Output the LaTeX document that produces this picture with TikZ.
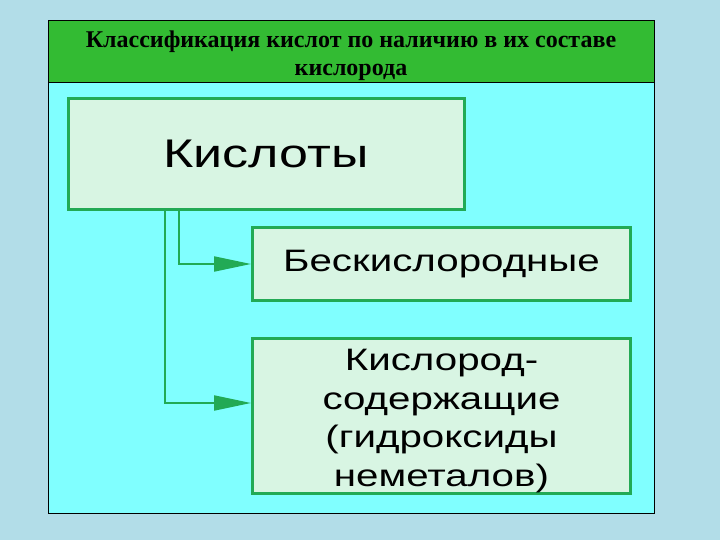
\documentclass[tikz,border=0pt]{standalone}
\usepackage{fontspec}
\setmainfont{Liberation Serif}
\setsansfont{Liberation Sans}
\newfontfamily\widesans[FakeStretch=1.3]{Liberation Sans}
\usepackage{tikz}
\usetikzlibrary{arrows.meta,positioning}

\definecolor{dropblue}{HTML}{B2DDE8}
\definecolor{headgreen}{HTML}{33BB33}
\definecolor{slidecyan}{HTML}{80FFFF}
\definecolor{boxfill}{HTML}{D8F5E3}
\definecolor{boxline}{HTML}{22AA55}

\begin{document}
\begin{tikzpicture}[x=1pt,y=-1pt,
                    >={Triangle[length=37pt,width=15pt]},
                    kind box/.style={rectangle,draw=boxline,line width=3pt,fill=boxfill,
                                     align=center,font=\widesans},
                    link/.style={->,draw=boxline,line width=2pt}]

  % background and slide
  \useasboundingbox (0,0) rectangle (720,540);
  \fill[dropblue] (0,0) rectangle (720,540);
  \draw[fill=slidecyan,line width=0.8pt] (48,20) rectangle (654,513);
  \draw[fill=headgreen,line width=0.8pt] (48,20) rectangle (654,82);
  \node[align=center,font=\fontsize{24}{28}\selectfont\bfseries] (title) at (351,56)
    {Классификация кислот по наличию в их составе\\кислорода};

  % boxes
  \node[kind box,minimum width=396pt,minimum height=111pt,
        font=\widesans\fontsize{40}{44}\selectfont] (acids) at (266,154) {Кислоты};
  \node[kind box,minimum width=378pt,minimum height=73pt,
        font=\widesans\fontsize{31}{38}\selectfont] (nooxy) at (441.5,264) {Бескислородные};
  \node[kind box,minimum width=378pt,minimum height=155pt,inner ysep=0pt,
        font=\widesans\fontsize{31}{38.5}\selectfont] (oxy) at (441.5,416)
    {\rule{0pt}{31pt}Кислород-\\содержащие\\(гидроксиды\\неметалов)};

  % connectors
  \draw[link] ([xshift=-87pt]acids.south) |- (nooxy.west);
  \draw[link] ([xshift=-101pt]acids.south) |- ([yshift=13pt]oxy.west);
\end{tikzpicture}
\end{document}
